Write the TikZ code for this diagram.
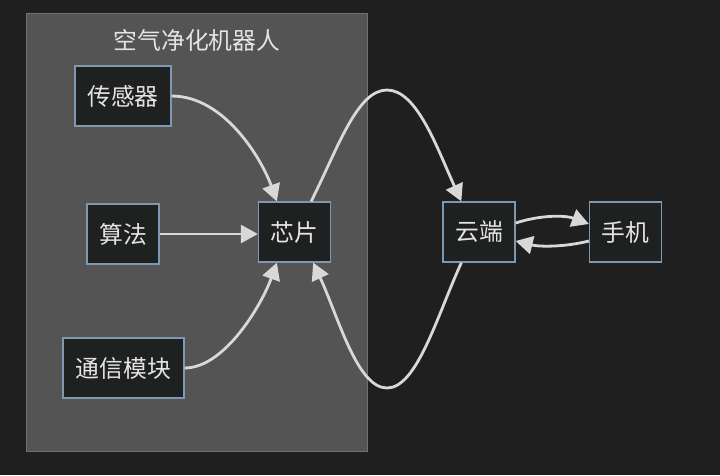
\documentclass[tikz,border=0pt]{standalone}
\usepackage{fontspec}
\newfontfamily\cjk{Noto Sans CJK SC}
\usetikzlibrary{arrows.meta,calc}
\definecolor{bgc}{HTML}{1F1F1F}
\definecolor{grpfill}{HTML}{545454}
\definecolor{grpline}{HTML}{707070}
\definecolor{nodefill}{HTML}{1F2121}
\definecolor{nodeline}{HTML}{7F98B2}
\definecolor{edgec}{HTML}{D8D8D8}
\definecolor{txtc}{HTML}{E4E4E4}
\begin{document}
\begin{tikzpicture}[x=1pt,y=-1pt,
  box/.style={draw=nodeline,fill=nodefill,line width=1.3pt,inner sep=0pt,minimum height=60pt,
    text=txtc,font=\cjk\fontsize{23.8}{28}\selectfont},
  edge/.style={draw=edgec,line width=2.8pt,-{Triangle[length=17pt,width=18pt]}},
]
\useasboundingbox (0,0) rectangle (720,475);
\fill[bgc] (0,0) rectangle (720,475);
\draw[fill=grpfill,draw=grpline,line width=1pt] (26,13) rectangle (367,451);
\node[text=txtc,font=\cjk\fontsize{23.8}{28}\selectfont] (title) at (197,40) {空气净化机器人};
\node[box,minimum width=96pt] (sen) at (123,96) {传感器};
\node[box,minimum width=72pt] (alg) at (123,234) {算法};
\node[box,minimum width=121pt] (com) at (123.5,368) {通信模块};
\node[box,minimum width=72pt] (chip) at (294.5,232) {芯片};
\node[box,minimum width=72pt] (cloud) at (479,232) {云端};
\node[box,minimum width=72pt] (phone) at (625.5,232) {手机};

\draw[edge] (sen.east) .. controls (225,96) and (262,160) .. ([xshift=19pt]chip.north west);
\draw[edge] (alg.east) -- (alg.east -| chip.west);
\draw[edge] (com.east) .. controls (225,368) and (262,304) .. ([xshift=19pt]chip.south west);
\draw[edge] ([xshift=-20pt]chip.north east) .. controls (338,148) and (357,90) .. (387,90)
  .. controls (417,90) and (437,148) .. ([xshift=19pt]cloud.north west);
\draw[edge] ([xshift=19pt]cloud.south west) .. controls (437,316) and (417,388) .. (387,388)
  .. controls (357,388) and (338,316) .. ([xshift=-18pt]chip.south east);
\draw[edge] ([yshift=9pt]cloud.east) .. controls (540,215) and (565,215) .. ([yshift=8pt]phone.west);
\draw[edge] ([yshift=-9pt]phone.west) .. controls (565,247) and (540,247) .. ([yshift=-9pt]cloud.east);
\end{tikzpicture}
\end{document}
